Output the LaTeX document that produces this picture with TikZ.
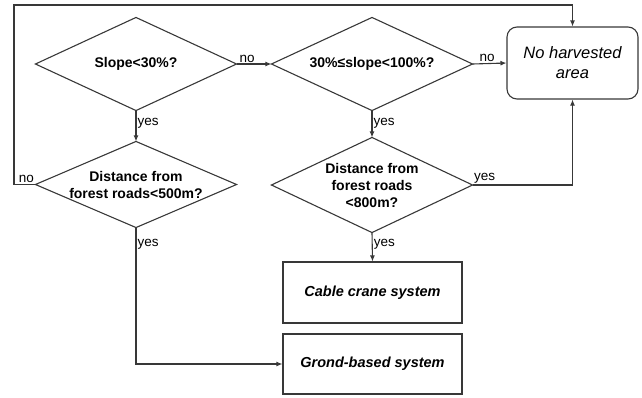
\documentclass[tikz,border=0pt]{standalone}
\usepackage{fontspec}
\setmainfont{Liberation Sans}
\usetikzlibrary{arrows.meta}
\colorlet{edge}{black!78}
\tikzset{
  decision/.style={minimum width=200pt, minimum height=92pt, inner sep=0pt, align=center,
    font=\fontsize{14}{17}\selectfont\bfseries},
  outcome/.style={draw=edge, minimum width=179pt, minimum height=61pt,
    font=\fontsize{14.5}{17}\selectfont\bfseries\itshape},
  lbl/.style={font=\fontsize{13.5}{16}\selectfont, inner sep=1pt},
  link/.style={draw=edge, -{Latex[length=6pt,width=5pt]}},
}
\begin{document}
\begin{tikzpicture}[x=1pt,y=-1pt,line width=1.1pt]
  \useasboundingbox (0,0) rectangle (642,397);
  % decisions
  \node[decision] (slope) at (136,64) {Slope<30\%?};
  \node[decision, minimum height=85pt] (road5) at (136,184.5) {Distance from\\forest roads<500m?};
  \node[decision] (steep) at (372,64) {30\%≤slope<100\%?};
  \node[decision, minimum height=94pt] (road8) at (372,185) {Distance from\\forest roads\\<800m?};
  \foreach \d in {slope,road5,steep,road8}
    \draw[edge] (\d.west) -- (\d.north) -- (\d.east) -- (\d.south) -- cycle;
  % results
  \node[draw=edge, rounded corners=10pt, minimum width=131pt, minimum height=72pt, align=center,
    font=\fontsize{16.5}{20}\selectfont\itshape] (none) at (572.5,63) {No harvested\\area};
  \node[outcome] (cable) at (372.5,292.5) {Cable crane system};
  \node[outcome, minimum height=60pt] (ground) at (372.5,364) {Grond-based system};
  \coordinate (corner) at (14,5);
  % links
  \draw[link] (slope.east) -- node[lbl, above, pos=0.3] {no} (steep.west);
  \draw[link] (steep.east) -- node[lbl, above, pos=0.43] {no} (none.west);
  \draw[link] (slope.south) -- node[lbl, right, pos=0.4] {yes} (road5.north);
  \draw[link] (steep.south) -- node[lbl, right, pos=0.46] {yes} (road8.north);
  \draw[link] (road8.south) -- node[lbl, right, pos=0.4] {yes} (cable.north);
  \draw[link] (road5.south) |- node[lbl, right, pos=0.06] {yes} (ground.west);
  \draw[link] (road8.east) -| node[lbl, above right, pos=0] {yes} (none.south);
  \draw[link] (road5.west) -| node[lbl, above left, pos=0] {no} (corner) -| (none.north);
\end{tikzpicture}
\end{document}
